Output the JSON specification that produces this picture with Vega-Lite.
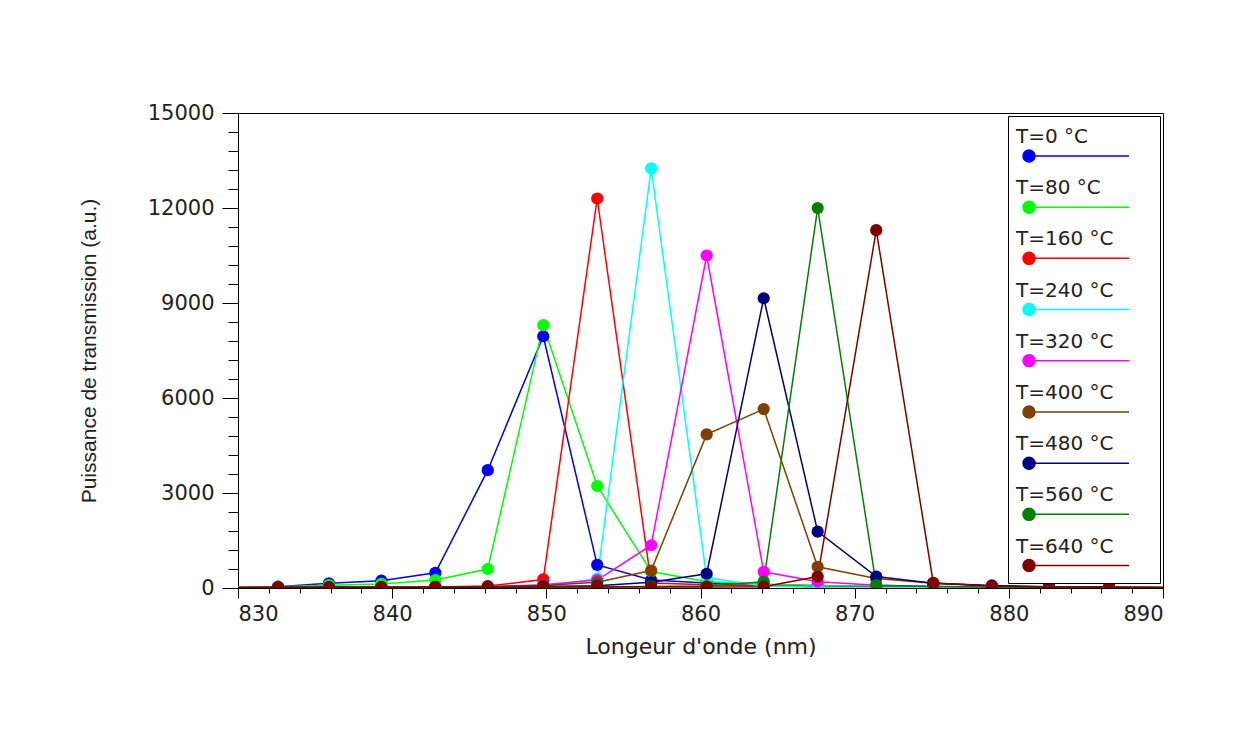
{
  "$schema": "https://vega.github.io/schema/vega-lite/v6.json",
  "width": 925,
  "height": 475,
  "autosize": {"type": "none"},
  "padding": {"left": 238, "top": 113, "right": 84, "bottom": 168},
  "background": "white",
  "config": {
    "view": {"stroke": "black", "strokeWidth": 1},
    "axis": {
      "domainColor": "black",
      "tickColor": "black",
      "grid": false,
      "labelFont": "DejaVu Sans",
      "labelFontSize": 21,
      "labelColor": "#222222",
      "titleColor": "#222222",
      "titleFontWeight": "normal"
    },
    "legend": {
      "orient": "top-right",
      "offset": 3,
      "strokeColor": "black",
      "fillColor": "white",
      "padding": 8,
      "labelFont": "DejaVu Sans",
      "labelFontSize": 20,
      "labelColor": "#222222",
      "labelLimit": 300,
      "symbolType": "M0,1.58L8.33,1.58M-0.5,1.58A0.5,0.5,0,1,0,0.5,1.58A0.5,0.5,0,1,0,-0.5,1.58ZM9.95,1.58",
      "symbolSize": 576,
      "symbolStrokeWidth": 1.5,
      "labelOffset": -26,
      "rowPadding": 10.2
    }
  },
  "data": {
    "values": [
      {"s": "T=0 °C", "wl": 829.2, "p": 20}, {"s": "T=0 °C", "wl": 832.6, "p": 40}, {"s": "T=0 °C", "wl": 835.9, "p": 150}, {"s": "T=0 °C", "wl": 839.3, "p": 230}, {"s": "T=0 °C", "wl": 842.8, "p": 480}, {"s": "T=0 °C", "wl": 846.2, "p": 3720}, {"s": "T=0 °C", "wl": 849.8, "p": 7950}, {"s": "T=0 °C", "wl": 853.3, "p": 730}, {"s": "T=0 °C", "wl": 856.8, "p": 250}, {"s": "T=0 °C", "wl": 860.4, "p": 160}, {"s": "T=0 °C", "wl": 864.1, "p": 110}, {"s": "T=0 °C", "wl": 867.6, "p": 70}, {"s": "T=0 °C", "wl": 871.4, "p": 50}, {"s": "T=0 °C", "wl": 875.1, "p": 35}, {"s": "T=0 °C", "wl": 878.9, "p": 25}, {"s": "T=0 °C", "wl": 882.6, "p": 20}, {"s": "T=0 °C", "wl": 886.5, "p": 15}, {"s": "T=0 °C", "wl": 890.4, "p": 10},
      {"s": "T=80 °C", "wl": 829.2, "p": 20}, {"s": "T=80 °C", "wl": 832.6, "p": 40}, {"s": "T=80 °C", "wl": 835.9, "p": 90}, {"s": "T=80 °C", "wl": 839.3, "p": 130}, {"s": "T=80 °C", "wl": 842.8, "p": 250}, {"s": "T=80 °C", "wl": 846.2, "p": 600}, {"s": "T=80 °C", "wl": 849.8, "p": 8300}, {"s": "T=80 °C", "wl": 853.3, "p": 3220}, {"s": "T=80 °C", "wl": 856.8, "p": 520}, {"s": "T=80 °C", "wl": 860.4, "p": 200}, {"s": "T=80 °C", "wl": 864.1, "p": 120}, {"s": "T=80 °C", "wl": 867.6, "p": 80}, {"s": "T=80 °C", "wl": 871.4, "p": 50}, {"s": "T=80 °C", "wl": 875.1, "p": 35}, {"s": "T=80 °C", "wl": 878.9, "p": 25}, {"s": "T=80 °C", "wl": 882.6, "p": 20}, {"s": "T=80 °C", "wl": 886.5, "p": 15}, {"s": "T=80 °C", "wl": 890.4, "p": 10},
      {"s": "T=160 °C", "wl": 829.2, "p": 10}, {"s": "T=160 °C", "wl": 832.6, "p": 15}, {"s": "T=160 °C", "wl": 835.9, "p": 20}, {"s": "T=160 °C", "wl": 839.3, "p": 25}, {"s": "T=160 °C", "wl": 842.8, "p": 35}, {"s": "T=160 °C", "wl": 846.2, "p": 60}, {"s": "T=160 °C", "wl": 849.8, "p": 270}, {"s": "T=160 °C", "wl": 853.3, "p": 12300}, {"s": "T=160 °C", "wl": 856.8, "p": 160}, {"s": "T=160 °C", "wl": 860.4, "p": 100}, {"s": "T=160 °C", "wl": 864.1, "p": 60}, {"s": "T=160 °C", "wl": 867.6, "p": 40}, {"s": "T=160 °C", "wl": 871.4, "p": 30}, {"s": "T=160 °C", "wl": 875.1, "p": 25}, {"s": "T=160 °C", "wl": 878.9, "p": 20}, {"s": "T=160 °C", "wl": 882.6, "p": 15}, {"s": "T=160 °C", "wl": 886.5, "p": 10}, {"s": "T=160 °C", "wl": 890.4, "p": 10},
      {"s": "T=240 °C", "wl": 829.2, "p": 10}, {"s": "T=240 °C", "wl": 832.6, "p": 15}, {"s": "T=240 °C", "wl": 835.9, "p": 20}, {"s": "T=240 °C", "wl": 839.3, "p": 25}, {"s": "T=240 °C", "wl": 842.8, "p": 30}, {"s": "T=240 °C", "wl": 846.2, "p": 35}, {"s": "T=240 °C", "wl": 849.8, "p": 50}, {"s": "T=240 °C", "wl": 853.3, "p": 300}, {"s": "T=240 °C", "wl": 856.8, "p": 13250}, {"s": "T=240 °C", "wl": 860.4, "p": 320}, {"s": "T=240 °C", "wl": 864.1, "p": 60}, {"s": "T=240 °C", "wl": 867.6, "p": 20}, {"s": "T=240 °C", "wl": 871.4, "p": 15}, {"s": "T=240 °C", "wl": 875.1, "p": 15}, {"s": "T=240 °C", "wl": 878.9, "p": 10}, {"s": "T=240 °C", "wl": 882.6, "p": 10}, {"s": "T=240 °C", "wl": 886.5, "p": 10}, {"s": "T=240 °C", "wl": 890.4, "p": 10},
      {"s": "T=320 °C", "wl": 829.2, "p": 10}, {"s": "T=320 °C", "wl": 832.6, "p": 15}, {"s": "T=320 °C", "wl": 835.9, "p": 20}, {"s": "T=320 °C", "wl": 839.3, "p": 25}, {"s": "T=320 °C", "wl": 842.8, "p": 30}, {"s": "T=320 °C", "wl": 846.2, "p": 40}, {"s": "T=320 °C", "wl": 849.8, "p": 100}, {"s": "T=320 °C", "wl": 853.3, "p": 250}, {"s": "T=320 °C", "wl": 856.8, "p": 1350}, {"s": "T=320 °C", "wl": 860.4, "p": 10500}, {"s": "T=320 °C", "wl": 864.1, "p": 510}, {"s": "T=320 °C", "wl": 867.6, "p": 200}, {"s": "T=320 °C", "wl": 871.4, "p": 90}, {"s": "T=320 °C", "wl": 875.1, "p": 50}, {"s": "T=320 °C", "wl": 878.9, "p": 30}, {"s": "T=320 °C", "wl": 882.6, "p": 20}, {"s": "T=320 °C", "wl": 886.5, "p": 15}, {"s": "T=320 °C", "wl": 890.4, "p": 10},
      {"s": "T=400 °C", "wl": 829.2, "p": 10}, {"s": "T=400 °C", "wl": 832.6, "p": 15}, {"s": "T=400 °C", "wl": 835.9, "p": 20}, {"s": "T=400 °C", "wl": 839.3, "p": 25}, {"s": "T=400 °C", "wl": 842.8, "p": 30}, {"s": "T=400 °C", "wl": 846.2, "p": 40}, {"s": "T=400 °C", "wl": 849.8, "p": 80}, {"s": "T=400 °C", "wl": 853.3, "p": 180}, {"s": "T=400 °C", "wl": 856.8, "p": 550}, {"s": "T=400 °C", "wl": 860.4, "p": 4850}, {"s": "T=400 °C", "wl": 864.1, "p": 5650}, {"s": "T=400 °C", "wl": 867.6, "p": 670}, {"s": "T=400 °C", "wl": 871.4, "p": 300}, {"s": "T=400 °C", "wl": 875.1, "p": 150}, {"s": "T=400 °C", "wl": 878.9, "p": 60}, {"s": "T=400 °C", "wl": 882.6, "p": 30}, {"s": "T=400 °C", "wl": 886.5, "p": 20}, {"s": "T=400 °C", "wl": 890.4, "p": 10},
      {"s": "T=480 °C", "wl": 829.2, "p": 10}, {"s": "T=480 °C", "wl": 832.6, "p": 15}, {"s": "T=480 °C", "wl": 835.9, "p": 20}, {"s": "T=480 °C", "wl": 839.3, "p": 25}, {"s": "T=480 °C", "wl": 842.8, "p": 30}, {"s": "T=480 °C", "wl": 846.2, "p": 40}, {"s": "T=480 °C", "wl": 849.8, "p": 50}, {"s": "T=480 °C", "wl": 853.3, "p": 70}, {"s": "T=480 °C", "wl": 856.8, "p": 180}, {"s": "T=480 °C", "wl": 860.4, "p": 450}, {"s": "T=480 °C", "wl": 864.1, "p": 9150}, {"s": "T=480 °C", "wl": 867.6, "p": 1780}, {"s": "T=480 °C", "wl": 871.4, "p": 360}, {"s": "T=480 °C", "wl": 875.1, "p": 150}, {"s": "T=480 °C", "wl": 878.9, "p": 80}, {"s": "T=480 °C", "wl": 882.6, "p": 40}, {"s": "T=480 °C", "wl": 886.5, "p": 25}, {"s": "T=480 °C", "wl": 890.4, "p": 15},
      {"s": "T=560 °C", "wl": 829.2, "p": 10}, {"s": "T=560 °C", "wl": 832.6, "p": 15}, {"s": "T=560 °C", "wl": 835.9, "p": 20}, {"s": "T=560 °C", "wl": 839.3, "p": 25}, {"s": "T=560 °C", "wl": 842.8, "p": 25}, {"s": "T=560 °C", "wl": 846.2, "p": 30}, {"s": "T=560 °C", "wl": 849.8, "p": 35}, {"s": "T=560 °C", "wl": 853.3, "p": 40}, {"s": "T=560 °C", "wl": 856.8, "p": 50}, {"s": "T=560 °C", "wl": 860.4, "p": 60}, {"s": "T=560 °C", "wl": 864.1, "p": 200}, {"s": "T=560 °C", "wl": 867.6, "p": 12000}, {"s": "T=560 °C", "wl": 871.4, "p": 90}, {"s": "T=560 °C", "wl": 875.1, "p": 50}, {"s": "T=560 °C", "wl": 878.9, "p": 30}, {"s": "T=560 °C", "wl": 882.6, "p": 20}, {"s": "T=560 °C", "wl": 886.5, "p": 15}, {"s": "T=560 °C", "wl": 890.4, "p": 10},
      {"s": "T=640 °C", "wl": 829.2, "p": 10}, {"s": "T=640 °C", "wl": 832.6, "p": 25}, {"s": "T=640 °C", "wl": 835.9, "p": 25}, {"s": "T=640 °C", "wl": 839.3, "p": 25}, {"s": "T=640 °C", "wl": 842.8, "p": 25}, {"s": "T=640 °C", "wl": 846.2, "p": 25}, {"s": "T=640 °C", "wl": 849.8, "p": 30}, {"s": "T=640 °C", "wl": 853.3, "p": 30}, {"s": "T=640 °C", "wl": 856.8, "p": 30}, {"s": "T=640 °C", "wl": 860.4, "p": 30}, {"s": "T=640 °C", "wl": 864.1, "p": 40}, {"s": "T=640 °C", "wl": 867.6, "p": 360}, {"s": "T=640 °C", "wl": 871.4, "p": 11300}, {"s": "T=640 °C", "wl": 875.1, "p": 160}, {"s": "T=640 °C", "wl": 878.9, "p": 60}, {"s": "T=640 °C", "wl": 882.6, "p": 30}, {"s": "T=640 °C", "wl": 886.5, "p": 25}, {"s": "T=640 °C", "wl": 890.4, "p": 20}
    ]
  },
  "resolve": {"axis": {"x": "independent", "y": "independent"}},
  "layer": [
    {
      "mark": {"type": "line", "clip": true, "strokeWidth": 1.5},
      "encoding": {
        "x": {
          "field": "wl", "type": "quantitative",
          "scale": {"domain": [830, 890], "nice": false, "zero": false},
          "axis": {
            "orient": "bottom",
            "values": [830, 840, 850, 860, 870, 880, 890],
            "tickSize": 10,
            "labelPadding": 5,
            "title": "Longeur d'onde (nm)",
            "titleFont": "DejaVu Sans",
            "titleFontSize": 22,
            "titlePadding": 12
          }
        },
        "y": {
          "field": "p", "type": "quantitative",
          "scale": {"domain": [0, 15000], "nice": false},
          "axis": {
            "orient": "left",
            "format": "d",
            "values": [0, 3000, 6000, 9000, 12000, 15000],
            "tickSize": 16,
            "labelPadding": 8,
            "title": "Puissance de transmission (a.u.)",
            "titleFont": "Liberation Sans",
            "titleFontSize": 21,
            "titlePadding": 48
          }
        },
        "color": {
          "field": "s", "type": "nominal",
          "scale": {
            "domain": ["T=0 °C", "T=80 °C", "T=160 °C", "T=240 °C", "T=320 °C", "T=400 °C", "T=480 °C", "T=560 °C", "T=640 °C"],
            "range": ["#0000ff", "#00ff00", "#ff0000", "#00ffff", "#ff00ff", "#804000", "#000080", "#008000", "#800000"]
          },
          "legend": {"title": null}
        }
      }
    },
    {
      "transform": [{"filter": "datum.wl >= 830 && datum.wl <= 890"}],
      "mark": {"type": "point", "filled": true, "size": 150, "opacity": 1, "clip": true},
      "encoding": {
        "x": {
          "field": "wl", "type": "quantitative",
          "axis": {
            "orient": "bottom",
            "values": [832, 834, 836, 838, 842, 844, 846, 848, 852, 854, 856, 858, 862, 864, 866, 868, 872, 874, 876, 878, 882, 884, 886, 888],
            "tickSize": 5,
            "labels": false,
            "domain": false,
            "title": null
          }
        },
        "y": {
          "field": "p", "type": "quantitative",
          "axis": {
            "orient": "left",
            "values": [600, 1200, 1800, 2400, 3600, 4200, 4800, 5400, 6600, 7200, 7800, 8400, 9600, 10200, 10800, 11400, 12600, 13200, 13800, 14400],
            "tickSize": 10,
            "labels": false,
            "domain": false,
            "title": null
          }
        },
        "color": {"field": "s", "type": "nominal", "legend": {"title": null}}
      }
    }
  ]
}
